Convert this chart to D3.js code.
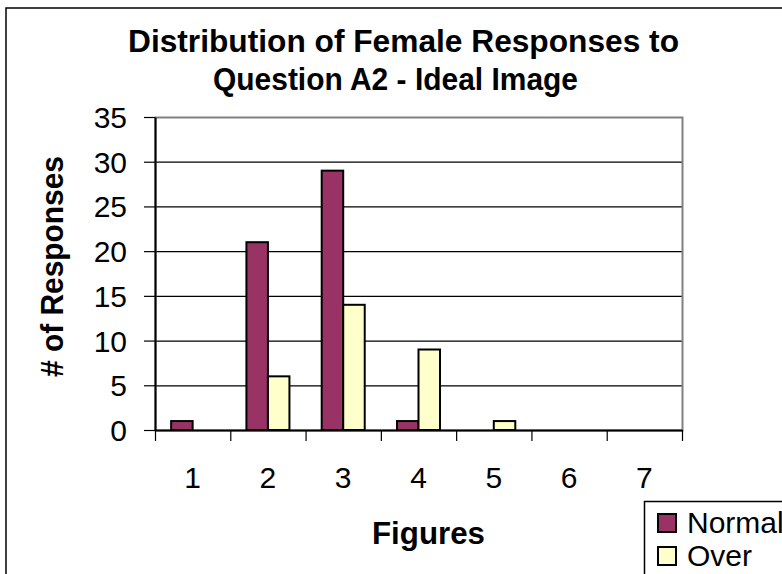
<!DOCTYPE html>
<html>
<head>
<meta charset="utf-8">
<script src="https://cdn.jsdelivr.net/npm/d3@7"></script>
<style>
  body { margin: 0; background: #fff; }
  svg { display: block; }
  text { font-family: "Liberation Sans", Arial, sans-serif; fill: #000; }
</style>
</head>
<body>
<div id="chart"></div>
<script>
// chart data
const figures = ['1', '2', '3', '4', '5', '6', '7'];
const seriesNames = ['Normal', 'Over'];
const normalValues = [1, 21, 29, 1, 0, 0, 0];
const overValues = [0, 6, 14, 9, 1, 0, 0];
const yTicks = [0, 5, 10, 15, 20, 25, 30, 35];
const colors = ['#993366', '#FFFFCC'];

const width = 782;
const height = 574;

// plot area inside the frame
const plot = { left: 155, right: 682, top: 117, bottom: 430 };

const svg = d3.select('#chart').append('svg')
    .attr('width', width)
    .attr('height', height);

// outer chart frame (runs off the right/bottom edge)
svg.append('rect')
    .attr('x', 6).attr('y', 8)
    .attr('width', 820).attr('height', 620)
    .attr('fill', '#fff')
    .attr('stroke', '#000')
    .attr('stroke-width', 1.5);

const xScale = d3.scaleBand()
    .domain(figures)
    .range([plot.left, plot.right])
    .paddingInner(0).paddingOuter(0);

const bw = xScale.bandwidth();
const gap = bw * 0.75 / 3.5; // gap width 150%
const xSub = d3.scaleBand()
    .domain(seriesNames)
    .range([gap, bw - gap]);

const yScale = d3.scaleLinear()
    .domain([0, 35])
    .range([plot.bottom, plot.top]);

// gridlines
svg.append('g')
    .attr('class', 'gridlines')
    .selectAll('line')
    .data(yTicks.filter(d => d > 0 && d < 35))
    .join('line')
    .attr('x1', plot.left).attr('x2', plot.right)
    .attr('y1', d => yScale(d) + 0.5).attr('y2', d => yScale(d) + 0.5)
    .attr('stroke', '#000')
    .attr('stroke-width', 1.2);

// plot area border (gray)
svg.append('rect')
    .attr('x', plot.left + 0.5).attr('y', plot.top + 0.5)
    .attr('width', plot.right - plot.left).attr('height', plot.bottom - plot.top)
    .attr('fill', 'none')
    .attr('stroke', '#808080')
    .attr('stroke-width', 2);

// bars
const rows = figures.map((f, i) => ({ fig: f, values: [normalValues[i], overValues[i]] }));

const groups = svg.append('g').attr('class', 'bars')
    .selectAll('g')
    .data(rows)
    .join('g')
    .attr('transform', d => `translate(${xScale(d.fig)},0)`);

groups.selectAll('rect')
    .data(d => d.values.map((v, i) => ({ name: seriesNames[i], value: v, color: colors[i] })))
    .join('rect')
    .filter(d => d.value > 0)
    .attr('x', d => xSub(d.name))
    .attr('y', d => yScale(d.value))
    .attr('width', xSub.bandwidth())
    .attr('height', d => yScale(0) - yScale(d.value))
    .attr('fill', d => d.color)
    .attr('stroke', '#000')
    .attr('stroke-width', 2);

// y axis
const yAxis = svg.append('g')
    .attr('class', 'y-axis')
    .attr('transform', `translate(${plot.left},0)`)
    .call(d3.axisLeft(yScale).tickValues(yTicks).tickSize(11).tickPadding(17).tickSizeOuter(0));
yAxis.select('.domain').attr('stroke', '#000').attr('stroke-width', 2);
yAxis.selectAll('.tick line').attr('stroke', '#000').attr('stroke-width', 1.2);
yAxis.selectAll('.tick text')
    .style('font-size', '30px')
    .attr('dy', '0.35em');

// x axis: line plus tick marks on category boundaries
const xEdges = d3.scaleLinear().domain([0, figures.length]).range([plot.left, plot.right]);
const xAxis = svg.append('g')
    .attr('class', 'x-axis')
    .attr('transform', `translate(0,${plot.bottom})`)
    .call(d3.axisBottom(xEdges).tickValues(d3.range(figures.length + 1)).tickFormat('').tickSize(11).tickSizeOuter(0));
xAxis.select('.domain').attr('stroke', '#000').attr('stroke-width', 2);
xAxis.selectAll('.tick line').attr('stroke', '#000').attr('stroke-width', 1.2);

svg.append('g')
    .attr('class', 'x-labels')
    .selectAll('text')
    .data(figures)
    .join('text')
    .attr('x', d => xScale(d) + bw / 2)
    .attr('y', 488)
    .attr('text-anchor', 'middle')
    .style('font-size', '30px')
    .text(d => d);

// titles
function fitText(sel, len) {
    sel.attr('textLength', len).attr('lengthAdjust', 'spacingAndGlyphs');
}

svg.append('text')
    .attr('x', 128).attr('y', 52)
    .style('font-size', '31px').style('font-weight', 'bold')
    .text('Distribution of Female Responses to')
    .call(fitText, 551);

svg.append('text')
    .attr('x', 213).attr('y', 90)
    .style('font-size', '31px').style('font-weight', 'bold')
    .text('Question A2 - Ideal Image')
    .call(fitText, 365);

svg.append('text')
    .attr('transform', 'translate(63,377) rotate(-90)')
    .style('font-size', '31px').style('font-weight', 'bold')
    .text('# of Responses')
    .call(fitText, 221);

svg.append('text')
    .attr('x', 372).attr('y', 544)
    .style('font-size', '31px').style('font-weight', 'bold')
    .text('Figures')
    .call(fitText, 113);

// legend
const legend = svg.append('g').attr('class', 'legend');
legend.append('rect')
    .attr('x', 644.5).attr('y', 501.5)
    .attr('width', 200).attr('height', 120)
    .attr('fill', '#fff')
    .attr('stroke', '#000')
    .attr('stroke-width', 1.5);

const items = legend.selectAll('g.item')
    .data(seriesNames)
    .join('g')
    .attr('class', 'item')
    .attr('transform', (d, i) => `translate(658,${514 + i * 33})`);

items.append('rect')
    .attr('width', 18).attr('height', 18)
    .attr('fill', (d, i) => colors[i])
    .attr('stroke', '#000')
    .attr('stroke-width', 2);

items.append('text')
    .attr('x', 29).attr('y', 19)
    .style('font-size', '30px')
    .text(d => d);
</script>
</body>
</html>
